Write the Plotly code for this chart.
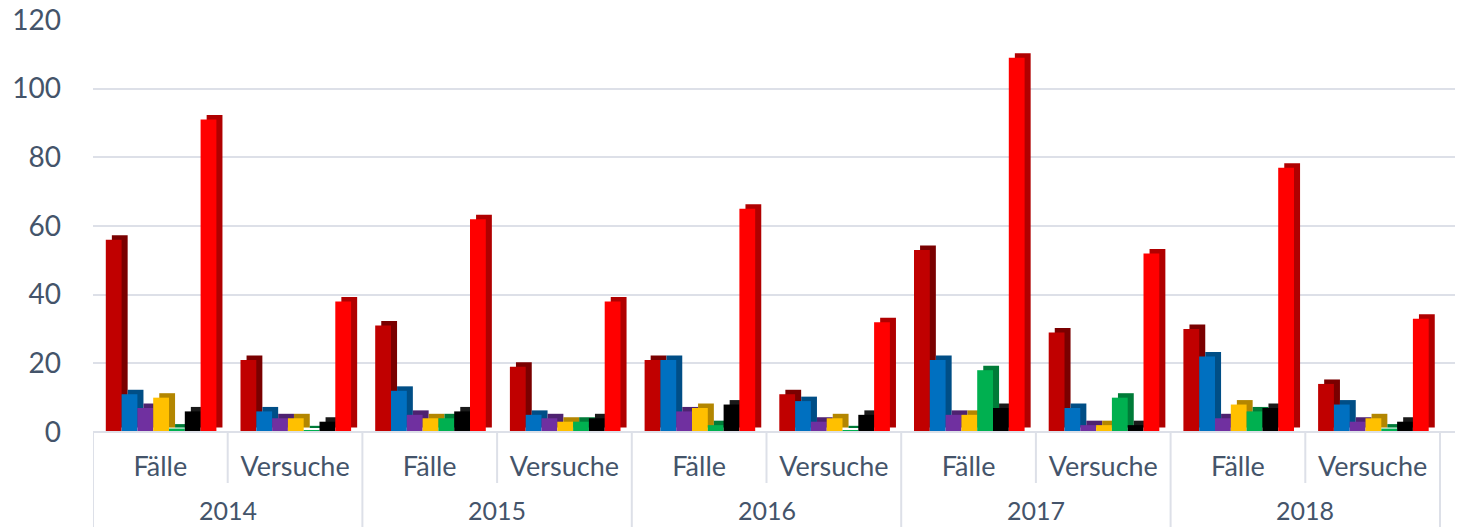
import plotly.graph_objects as go

years = ["2014", "2014", "2015", "2015", "2016", "2016", "2017", "2017", "2018", "2018"]
kinds = ["Fälle", "Versuche"] * 5
year_labels = ["2014", "2015", "2016", "2017", "2018"]

s1 = [56, 21, 31, 19, 21, 11, 53, 29, 30, 14]   # dark red
s2 = [11, 6, 12, 5, 21, 9, 21, 7, 22, 8]        # blue
s3 = [7, 4, 5, 4, 6, 3, 5, 2, 4, 3]             # purple
s4 = [10, 4, 4, 3, 7, 4, 5, 2, 8, 4]            # yellow
s5 = [1, 0.5, 4, 3, 2, 0.5, 18, 10, 6, 1]       # green
s6 = [6, 3, 6, 4, 8, 5, 7, 2, 7, 3]             # black
s7 = [91, 38, 62, 38, 65, 32, 109, 52, 77, 33]  # red

series = [s1, s2, s3, s4, s5, s6, s7]
names = ["Serie 1", "Serie 2", "Serie 3", "Serie 4", "Serie 5", "Serie 6", "Serie 7"]
colors = ["#C00000", "#0070C0", "#7030A0", "#FFC000", "#00B050", "#000000", "#FF0000"]
sides = ["#7A0000", "#004E86", "#4E2270", "#B38600", "#007B38", "#1A1A1A", "#B00000"]

# pseudo-3D styling
BAR_W = 0.1173          # width of one bar in category units
GROUP_START = -0.405    # offset of the first bar from the category centre
DEPTH_X = 0.045         # horizontal extrusion (category units)
DEPTH_Y = 1.3           # vertical extrusion (value units)

cats = [f"{y} {k}" for y, k in zip(years, kinds)]
n = len(cats)

fig = go.Figure()
# extruded (side/top) faces first
for i, (vals, nm, sc) in enumerate(zip(series, names, sides)):
    fig.add_trace(go.Bar(x=cats, y=vals, base=DEPTH_Y, name=nm + " (3D)",
                         offset=GROUP_START + i * BAR_W + DEPTH_X, width=BAR_W,
                         marker=dict(color=sc, line=dict(width=0)),
                         hoverinfo="skip", showlegend=False))
# front faces
for i, (vals, nm, c) in enumerate(zip(series, names, colors)):
    fig.add_trace(go.Bar(x=cats, y=vals, name=nm,
                         offset=GROUP_START + i * BAR_W, width=BAR_W,
                         marker=dict(color=c, line=dict(width=0))))

TOP, BOTTOM, H = 20, 95, 527
plot_h = H - TOP - BOTTOM
div_col = "#DDE0E8"
txt_col = "#44546A"

shapes = []
# floor/front edge of the category axis
shapes.append(dict(type="line", xref="x", yref="paper", x0=-0.5, x1=n - 0.5, y0=0, y1=0,
                   line=dict(color=div_col, width=2)))
# dividers between years (full height) and inside a year (first level only)
for j in range(n + 1):
    xpos = j - 0.5
    full = (j % 2 == 0)
    depth_px = BOTTOM if full else 51
    shapes.append(dict(type="line", xref="x", yref="paper", x0=xpos, x1=xpos,
                       y0=0, y1=-depth_px / plot_h, line=dict(color=div_col, width=2)))

annotations = []
for j, yl in enumerate(year_labels):
    annotations.append(dict(text=yl, xref="x", yref="paper", x=2 * j + 0.5, y=0,
                            yanchor="middle", yshift=-78, showarrow=False,
                            font=dict(size=25, color=txt_col)))

fig.update_layout(
    width=1459, height=H,
    margin=dict(l=93, r=4, t=TOP, b=BOTTOM),
    plot_bgcolor="white", paper_bgcolor="white",
    barmode="overlay",
    showlegend=False,
    font=dict(family="Lato, Open Sans, sans-serif", color=txt_col),
    shapes=shapes, annotations=annotations,
)
fig.update_yaxes(range=[0, 120], dtick=20, showgrid=True, gridcolor=div_col, gridwidth=2,
                 tickfont=dict(size=28, color=txt_col), ticks="", zeroline=True,
                 zerolinecolor=div_col, zerolinewidth=2, showline=False,
                 ticklabelstandoff=31, automargin=False)
fig.update_xaxes(type="category", range=[-0.5, n - 0.5 + 15 / 134.7],
                 tickmode="array", tickvals=cats, ticktext=kinds,
                 tickfont=dict(size=27, color=txt_col), showline=False, showgrid=False,
                 ticks="", ticklabelstandoff=16, automargin=False)

fig.write_html("out.html", config={"displayModeBar": False},
               post_script="document.body.style.margin='0';document.body.style.overflow='hidden';")
